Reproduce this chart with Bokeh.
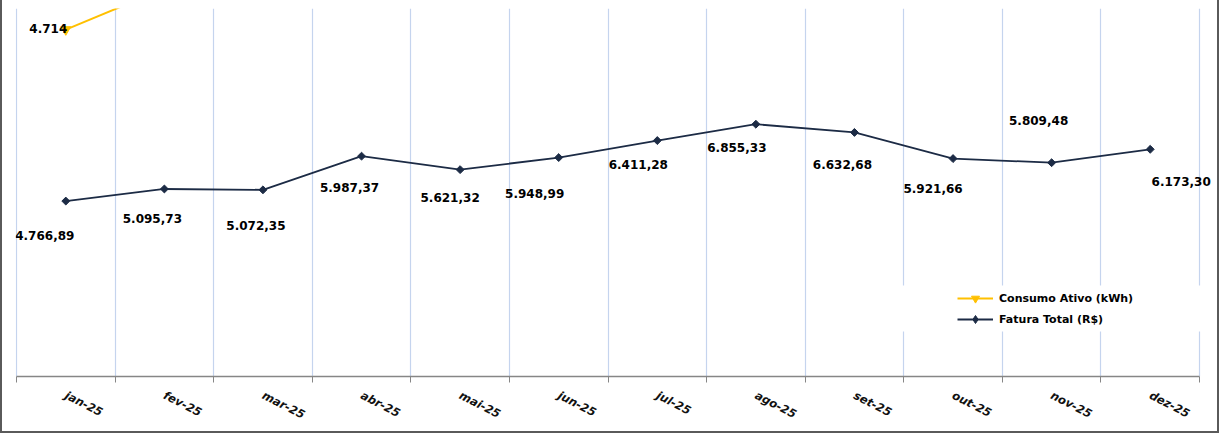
import numpy as np
from bokeh.plotting import figure
from bokeh.models import (Range1d, FixedTicker, ColumnDataSource, LabelSet,
                          Legend, LegendItem, BoxAnnotation)
from bokeh.core.properties import value
from bokeh.embed import file_html
from bokeh.resources import INLINE

# ---- data ----
months = ["jan-25", "fev-25", "mar-25", "abr-25", "mai-25", "jun-25",
          "jul-25", "ago-25", "set-25", "out-25", "nov-25", "dez-25"]
fatura = [4766.89, 5095.73, 5072.35, 5987.37, 5621.32, 5948.99,
          6411.28, 6855.33, 6632.68, 5921.66, 5809.48, 6173.30]
consumo = [4714, 5269, None, None, None, None, None, None, None, None, None, None]
fatura_labels = ["4.766,89", "5.095,73", "5.072,35", "5.987,37", "5.621,32", "5.948,99",
                 "6.411,28", "6.855,33", "6.632,68", "5.921,66", "5.809,48", "6.173,30"]
consumo_labels = ["4.714", "", "", "", "", "", "", "", "", "", "", ""]

# ---- label placement (screen px, down positive) ----
fat_dx = [-21, -12, -7, -12, -10, -24, -19, -19, -12, -20, -13, 31]
fat_dy = [34, 30, 36, 31, 28, 36, 24, 23, 32, 30, -42, 32]

NAVY = "#1C2B45"
GOLD = "#FFC000"
GRID = "#C5D4EE"
AXIS = "#868686"
FRAME = "#5A5A5A"

n = len(months)
xc = [i + 0.5 for i in range(n)]

# frame: left 15 (1px pad), first boundary at 16, last at 1199, frame right at 1219
ppu = (1199 - 16) / n
x_start = -1 / ppu
x_end = n + (1219 - 1199) / ppu

p = figure(width=1219, height=433, output_backend="svg", toolbar_location=None,
           x_range=Range1d(x_start, x_end), y_range=Range1d(0, 10000),
           y_axis_location=None, min_border_left=13, min_border_right=2,
           min_border_top=8, min_border_bottom=57,
           styles={"border-left": f"2px solid {FRAME}", "border-right": f"2px solid {FRAME}",
                   "border-bottom": f"2px solid {FRAME}"})
p.extra_y_ranges = {"c": Range1d(0, 5000)}
p.outline_line_color = None
p.background_fill_color = "white"
p.border_fill_color = "white"

# axis
ax = p.xaxis[0]
ax.bounds = (0, n)
ax.ticker = FixedTicker(ticks=xc, minor_ticks=list(range(n + 1)))
ax.major_label_overrides = {x: m for x, m in zip(xc, months)}
ax.major_tick_line_color = None
ax.major_tick_out = 0
ax.major_tick_in = 0
ax.minor_tick_line_color = AXIS
ax.minor_tick_out = 6
ax.minor_tick_in = 0
ax.axis_line_color = AXIS
ax.axis_line_width = 1.5
ax.major_label_orientation = -0.47
ax.major_label_standoff = 12
ax.major_label_text_font = "DejaVu Sans"
ax.major_label_text_font_style = "bold italic"
ax.major_label_text_font_size = "11.5px"
ax.major_label_text_color = "#111111"

# grid at category boundaries
p.xgrid.ticker = FixedTicker(ticks=list(range(n + 1)))
p.xgrid.grid_line_color = GRID
p.xgrid.grid_line_width = 1.2
p.ygrid.grid_line_color = None

# white area behind legend
box = BoxAnnotation(left=8.9, right=12.15, bottom=1220, top=2475,
                    fill_color="white", fill_alpha=1.0, line_color=None, level="underlay")
p.add_layout(box)

src = ColumnDataSource(dict(x=xc, fat=fatura, con=[np.nan if v is None else v for v in consumo],
                            fl=fatura_labels, cl=consumo_labels,
                            dx=fat_dx, dy=[-d for d in fat_dy]))

# Consumo (secondary axis)
lc = p.line("x", "con", source=src, y_range_name="c", color=GOLD, line_width=2)
mc = p.scatter("x", "con", source=src, y_range_name="c", marker="inverted_triangle",
               size=10, color=GOLD)
p.text("x", "con", text="cl", source=src, y_range_name="c", x_offset=-17.5, y_offset=-1.5,
       text_align="center", text_baseline="middle", text_font=value("DejaVu Sans"),
       text_font_style="bold", text_font_size="12px", text_color="black")

# Fatura
lf = p.line("x", "fat", source=src, color=NAVY, line_width=1.8)
mf = p.scatter("x", "fat", source=src, marker="square", angle=np.pi / 4, size=5.6,
               color=NAVY)
# legend proxy marker (diamond shape as drawn in the legend)
mf_leg = p.scatter(x=[np.nan], y=[np.nan], marker="diamond", size=11, color=NAVY)

labels = LabelSet(x="x", y="fat", text="fl", source=src, x_offset="dx", y_offset="dy",
                  text_align="center", text_baseline="middle", text_font=value("DejaVu Sans"),
                  text_font_style="bold", text_font_size="12px", text_color="black")
p.add_layout(labels)

legend = Legend(items=[LegendItem(label="Consumo Ativo (kWh)", renderers=[lc, mc]),
                       LegendItem(label="Fatura Total (R$)", renderers=[lf, mf_leg])],
                location=(942, 47), padding=0, margin=0, spacing=1,
                glyph_width=36, glyph_height=20, label_height=20, label_standoff=6,
                background_fill_alpha=0, border_line_color=None,
                label_text_font="DejaVu Sans", label_text_font_style="bold",
                label_text_font_size="11px", label_text_color="black")
p.add_layout(legend)

open("out.html", "w").write(file_html(p, INLINE))
